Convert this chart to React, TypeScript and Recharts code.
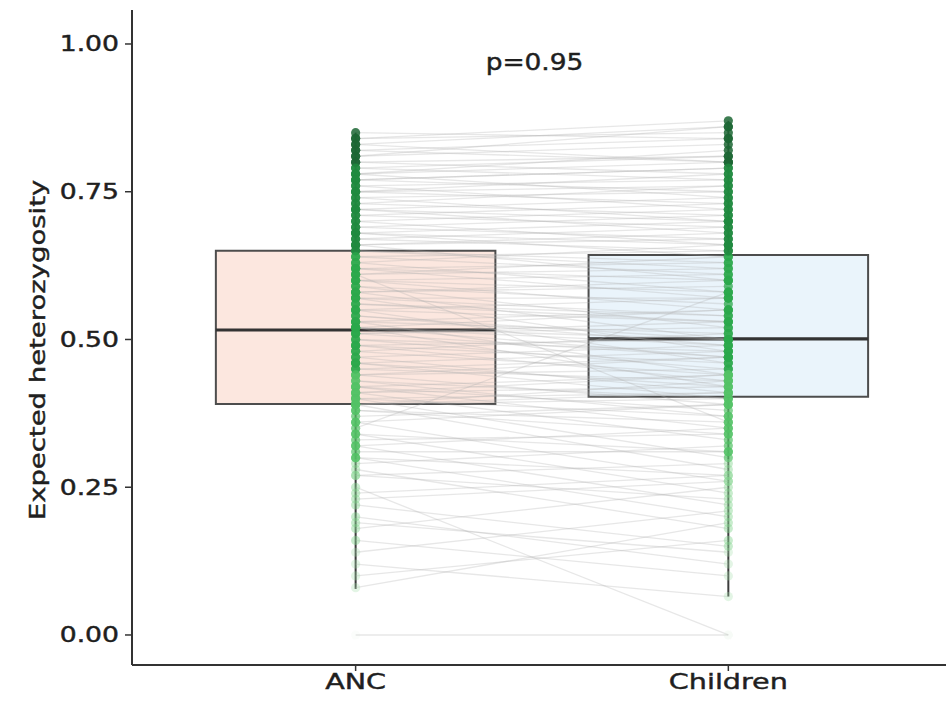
import React from 'react';
import {
  ComposedChart,
  Scatter,
  XAxis,
  YAxis,
  ReferenceArea,
  ReferenceLine,
  ReferenceDot,
} from 'recharts';

// ---------- data ----------
const CATEGORIES = ['ANC', 'Children'];
const X_POSITIONS = [1, 2];

const ANC_VALUES = [
  0.85, 0.84, 0.83, 0.81, 0.8, 0.79, 0.78, 0.78, 0.77, 0.76,
  0.75, 0.74, 0.73, 0.72, 0.71, 0.7, 0.69, 0.68, 0.67, 0.66,
  0.66, 0.65, 0.64, 0.63, 0.62, 0.61, 0.61, 0.6, 0.6, 0.59,
  0.58, 0.58, 0.57, 0.57, 0.56, 0.55, 0.55, 0.54, 0.53, 0.53,
  0.52, 0.52, 0.52, 0.52, 0.51, 0.51, 0.5, 0.49, 0.49, 0.48,
  0.47, 0.46, 0.46, 0.45, 0.44, 0.44, 0.43, 0.42, 0.42, 0.41,
  0.41, 0.4, 0.4, 0.39, 0.39, 0.39, 0.38, 0.37, 0.36, 0.35,
  0.34, 0.33, 0.32, 0.31, 0.3, 0.29, 0.28, 0.27, 0.25, 0.24,
  0.22, 0.2, 0.18, 0.16, 0.14, 0.12, 0.1, 0.08, 0.0,
  0.84, 0.83, 0.82, 0.82, 0.81, 0.8, 0.79, 0.78, 0.77, 0.77,
  0.76, 0.75, 0.75, 0.74, 0.73, 0.72, 0.72, 0.71, 0.7, 0.69,
  0.68, 0.68, 0.67, 0.66, 0.65, 0.64, 0.63, 0.62, 0.62, 0.61,
  0.6, 0.59, 0.58, 0.57, 0.56, 0.55, 0.54, 0.53, 0.52, 0.51,
  0.5, 0.49, 0.48, 0.47, 0.46, 0.45, 0.44, 0.43, 0.42, 0.41,
  0.4, 0.39, 0.38, 0.36, 0.34, 0.32, 0.3, 0.27, 0.23, 0.19,
];

const CHILDREN_VALUES = [
  0.84, 0.87, 0.8, 0.86, 0.81, 0.77, 0.82, 0.74, 0.79, 0.72,
  0.78, 0.7, 0.76, 0.68, 0.73, 0.66, 0.71, 0.64, 0.69, 0.6,
  0.67, 0.62, 0.65, 0.58, 0.63, 0.36, 0.64, 0.55, 0.61, 0.52,
  0.59, 0.5, 0.57, 0.48, 0.54, 0.46, 0.53, 0.5, 0.51, 0.44,
  0.5, 0.42, 0.55, 0.49, 0.47, 0.52, 0.45, 0.5, 0.43, 0.51,
  0.41, 0.48, 0.4, 0.47, 0.39, 0.45, 0.37, 0.44, 0.35, 0.42,
  0.33, 0.41, 0.3, 0.4, 0.28, 0.43, 0.36, 0.39, 0.26, 0.58,
  0.24, 0.34, 0.22, 0.31, 0.2, 0.32, 0.18, 0.29, 0.0, 0.27,
  0.15, 0.12, 0.25, 0.1, 0.21, 0.065, 0.16, 0.19, 0.0,
  0.85, 0.86, 0.84, 0.8, 0.83, 0.78, 0.81, 0.8, 0.75, 0.79,
  0.77, 0.73, 0.76, 0.75, 0.71, 0.74, 0.7, 0.69, 0.72, 0.67,
  0.7, 0.66, 0.65, 0.68, 0.63, 0.61, 0.66, 0.6, 0.57, 0.62,
  0.58, 0.56, 0.6, 0.54, 0.53, 0.57, 0.49, 0.55, 0.47, 0.53,
  0.48, 0.46, 0.44, 0.49, 0.42, 0.43, 0.47, 0.4, 0.38, 0.44,
  0.37, 0.41, 0.34, 0.39, 0.31, 0.35, 0.27, 0.23, 0.26, 0.14,
];

const BOX_Q1 = [0.391, 0.403];
const BOX_MEDIAN = [0.516, 0.501];
const BOX_Q3 = [0.65, 0.643];
const WHISKER_LOW = [0.078, 0.065];
const WHISKER_HIGH = [0.85, 0.87];

const Y_TICKS = [0, 0.25, 0.5, 0.75, 1.0];
const Y_LABEL = 'Expected heterozygosity';
const P_LABEL = 'p=0.95';
const P_LABEL_POS = { x: 1.48, y: 0.97 };

// ---------- styling ----------
const BOX_FILLS = ['#fce7df', '#eaf4fb'];
const BOX_HALF_WIDTH = 0.375;
const FONT = '"DejaVu Sans", Verdana, sans-serif';
const TEXT_COLOR = '#1f1f1f';
const TEXT_STROKE = 0.45;

const groupValues = [ANC_VALUES, CHILDREN_VALUES];

const pairData = ANC_VALUES.map((a, i) => [
  { x: X_POSITIONS[0], y: a },
  { x: X_POSITIONS[1], y: CHILDREN_VALUES[i] },
]);

const pointData = groupValues.map((vals, g) =>
  vals.map((v) => ({ x: X_POSITIONS[g], y: v }))
);

function pointStyle(v: number) {
  if (v >= 0.8) return { fill: '#1c6634', opacity: 0.85 };
  if (v >= 0.65) return { fill: '#1f8a3f', opacity: 0.8 };
  if (v >= 0.45) return { fill: '#2ba84b', opacity: 0.75 };
  if (v >= 0.3) return { fill: '#52c265', opacity: 0.7 };
  if (v >= 0.15) return { fill: '#86d591', opacity: 0.45 };
  if (v > 0.01) return { fill: '#a3dfaa', opacity: 0.3 };
  return { fill: '#d5f0d8', opacity: 0.1 };
}

const PointShape = (props: any) => {
  const { cx, cy, payload } = props;
  if (cx == null || cy == null) return <g />;
  const s = pointStyle(payload.y);
  return <circle cx={cx} cy={cy} r={4.6} fill={s.fill} fillOpacity={s.opacity} />;
};

const EmptyShape = () => <g />;

const textProps = {
  fontFamily: FONT,
  fill: TEXT_COLOR,
  stroke: TEXT_COLOR,
  strokeWidth: TEXT_STROKE,
};

const YTick = (props: any) => {
  const { x, y, payload } = props;
  return (
    <g transform={`translate(${x},${y})`}>
      <text
        x={0}
        y={0}
        dy="0.36em"
        textAnchor="end"
        transform="scale(1.3,1)"
        fontSize={20.5}
        {...textProps}
      >
        {Number(payload.value).toFixed(2)}
      </text>
    </g>
  );
};

const XTick = (props: any) => {
  const { x, y, payload } = props;
  const idx = X_POSITIONS.indexOf(payload.value);
  return (
    <g transform={`translate(${x},${y})`}>
      <text
        x={0}
        y={0}
        dy="0.74em"
        textAnchor="middle"
        transform="scale(1.3,1)"
        fontSize={22}
        {...textProps}
      >
        {idx >= 0 ? CATEGORIES[idx] : ''}
      </text>
    </g>
  );
};

const YAxisLabel = () => (
  <text
    transform="translate(37,350) rotate(-90) scale(1.25,1)"
    textAnchor="middle"
    dominantBaseline="central"
    fontSize={22}
    {...textProps}
  >
    {Y_LABEL}
  </text>
);

const PLabel = (props: any) => {
  const vb = props.viewBox || {};
  const cx = (vb.x ?? 0) + (vb.width ?? 0) / 2;
  const cy = (vb.y ?? 0) + (vb.height ?? 0) / 2;
  return (
    <text
      transform={`translate(${cx},${cy}) scale(1.15,1)`}
      textAnchor="middle"
      dominantBaseline="central"
      fontSize={23}
      {...textProps}
    >
      {P_LABEL}
    </text>
  );
};

export default function App() {
  return (
    <div style={{ position: 'absolute', left: 0, top: 0, width: 946, height: 704, background: '#fff' }}>
      <ComposedChart width={946} height={704} margin={{ top: 10, right: 0, bottom: 0, left: 0 }}>
        <XAxis
          type="number"
          dataKey="x"
          domain={[0.4, 2.584]}
          allowDataOverflow
          ticks={X_POSITIONS}
          tick={<XTick />}
          tickSize={6}
          tickMargin={2}
          height={39}
          axisLine={{ stroke: '#333', strokeWidth: 2 }}
          tickLine={{ stroke: '#333', strokeWidth: 1.5 }}
        />
        <YAxis
          type="number"
          dataKey="y"
          domain={[-0.0508, 1.0575]}
          allowDataOverflow
          ticks={Y_TICKS}
          tick={<YTick />}
          tickSize={7}
          tickMargin={6}
          width={132}
          axisLine={{ stroke: '#333', strokeWidth: 2 }}
          tickLine={{ stroke: '#333', strokeWidth: 1.5 }}
          label={<YAxisLabel />}
        />

        {X_POSITIONS.map((xp, g) => (
          <ReferenceArea
            key={`box-${g}`}
            x1={xp - BOX_HALF_WIDTH}
            x2={xp + BOX_HALF_WIDTH}
            y1={BOX_Q1[g]}
            y2={BOX_Q3[g]}
            fill={BOX_FILLS[g]}
            fillOpacity={1}
            stroke="#4d4d4d"
            strokeWidth={2}
            ifOverflow="visible"
          />
        ))}
        {X_POSITIONS.map((xp, g) => (
          <ReferenceLine
            key={`med-${g}`}
            segment={[
              { x: xp - BOX_HALF_WIDTH, y: BOX_MEDIAN[g] },
              { x: xp + BOX_HALF_WIDTH, y: BOX_MEDIAN[g] },
            ]}
            stroke="#333"
            strokeWidth={3.2}
          />
        ))}
        {X_POSITIONS.map((xp, g) => (
          <ReferenceLine
            key={`wl-${g}`}
            segment={[
              { x: xp, y: WHISKER_LOW[g] },
              { x: xp, y: BOX_Q1[g] },
            ]}
            stroke="#3d3d3d"
            strokeWidth={2}
          />
        ))}
        {X_POSITIONS.map((xp, g) => (
          <ReferenceLine
            key={`wh-${g}`}
            segment={[
              { x: xp, y: BOX_Q3[g] },
              { x: xp, y: WHISKER_HIGH[g] },
            ]}
            stroke="#3d3d3d"
            strokeWidth={2}
          />
        ))}

        {pairData.map((d, i) => (
          <Scatter
            key={`pair-${i}`}
            data={d}
            line={{ stroke: '#b0b0b0', strokeWidth: 1.3, strokeOpacity: 0.3 }}
            shape={<EmptyShape />}
            isAnimationActive={false}
            legendType="none"
          />
        ))}

        {pointData.map((d, g) => (
          <Scatter
            key={`pts-${g}`}
            data={d}
            shape={<PointShape />}
            isAnimationActive={false}
            legendType="none"
          />
        ))}

        <ReferenceDot
          x={P_LABEL_POS.x}
          y={P_LABEL_POS.y}
          r={0}
          fill="none"
          stroke="none"
          label={<PLabel />}
        />
      </ComposedChart>
    </div>
  );
}
